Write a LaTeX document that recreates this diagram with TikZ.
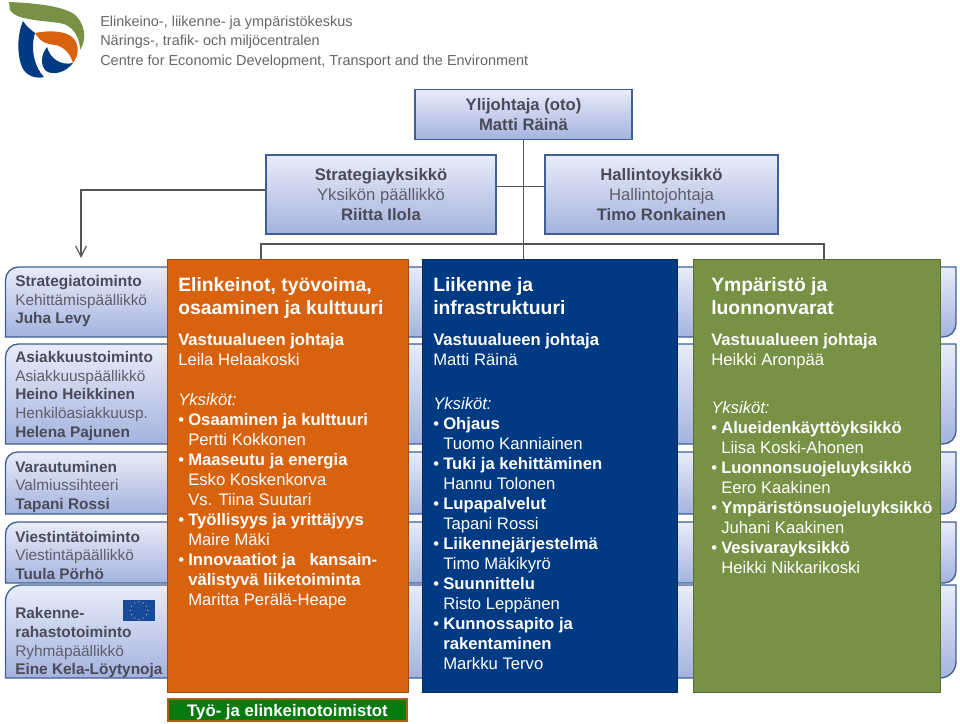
\documentclass[tikz,border=0pt]{standalone}
\usepackage{fontspec}
\setmainfont{Liberation Sans}
\usetikzlibrary{arrows.meta,positioning,calc,fit}
\definecolor{inktext}{HTML}{4A4A58}
\definecolor{softtext}{HTML}{5E5E68}
\definecolor{logotext}{HTML}{666666}
\definecolor{edgeblue}{HTML}{3F5F95}
\definecolor{shadetop}{HTML}{E9ECF9}
\definecolor{shadebot}{HTML}{A3B3DE}
\definecolor{linegray}{HTML}{555555}
\definecolor{elyorange}{HTML}{D9620F}
\definecolor{elyblue}{HTML}{003A82}
\definecolor{elygreen}{HTML}{779145}
\definecolor{tegreen}{HTML}{087A10}
\definecolor{tebrown}{HTML}{A8621C}
\definecolor{flagblue}{HTML}{174A9B}
\definecolor{flagstar}{HTML}{D8D060}
\tikzset{
  unitbox/.style={draw=edgeblue,line width=1pt,top color=shadetop,bottom color=shadebot,align=center,
    text=softtext,inner sep=0pt,font=\fontsize{12.5}{15}\selectfont},
  bandbox/.style={draw=edgeblue,line width=1pt,top color=shadetop,bottom color=shadebot},
  bandtext/.style={anchor=north west,align=left,inner sep=0pt,text=softtext,font=\fontsize{11.55}{13.9}\selectfont},
  panelbox/.style={draw=#1!75!black,line width=.6pt,fill=#1,inner sep=0pt},
  paneltitle/.style={anchor=north west,align=left,inner sep=0pt,text=white,font=\fontsize{14.5}{17.2}\selectfont\bfseries},
  paneltext/.style={anchor=north west,align=left,inner sep=0pt,text=white,font=\fontsize{12.5}{15}\selectfont},
  logoline/.style={anchor=west,inner sep=0pt,text=logotext,font=\fontsize{10.85}{13}\selectfont},
  linkline/.style={draw=linegray,line width=.9pt}
}
\newcommand{\hd}[1]{\textbf{\textcolor{inktext}{#1}}}
\newcommand{\bul}[1]{\makebox[7.5pt][l]{•}\textbf{#1}}
\newcommand{\nam}[1]{\hspace*{7.5pt}#1}
\begin{document}
\begin{tikzpicture}[x=0.75pt,y=-0.75pt]
\useasboundingbox (0,0) rectangle (960,724);
% logo
\fill[elygreen] (9,2) .. controls (30,3) and (60,5) .. (74,14) .. controls (84,22) and (88,38) .. (80,50)
  .. controls (80,40) and (75,28) .. (64,24) .. controls (45,20) and (16,21) .. (10,10) -- cycle;
\fill[elyblue] (23,21) .. controls (17,35) and (17,55) .. (22,67) .. controls (26,76) and (36,79) .. (44,77)
  .. controls (35,68) and (30,50) .. (35,33) .. controls (31,30) and (26,26) .. (23,21) -- cycle;
\fill[elyblue] (47,47) .. controls (41,55) and (40,65) .. (46,71) .. controls (54,76) and (66,72) .. (73,63)
  .. controls (60,66) and (50,58) .. (47,47) -- cycle;
\fill[elyorange] (35,33) .. controls (50,30) and (65,31) .. (72,37) .. controls (80,44) and (79,55) .. (73,63)
  .. controls (70,52) and (62,46) .. (55,45) .. controls (48,44) and (42,44) .. (35,33) -- cycle;
\node[logoline] (logoa) at (100,23) {Elinkeino-, liikenne- ja ympäristökeskus};
\node[logoline] (logob) at (100,42) {Närings-, trafik- och miljöcentralen};
\node[logoline] (logoc) at (100,62) {Centre for Economic Development, Transport and the Environment};
% draw the bands behind the panels
\foreach \ya/\yb/\rr in {267/337/13,344/444/13,452/514/12,522/583/12,585/678/16}
  \draw[bandbox] (5.5,\yb) -- (5.5,{\ya+\rr}) .. controls (5.5,{\ya+.45*\rr}) and ({5.5+.45*\rr},\ya) .. ({5.5+\rr},\ya) -- (956,\ya)
    -- (956,{\yb-\rr}) .. controls (956,{\yb-.45*\rr}) and ({956-.45*\rr},\yb) .. ({956-\rr},\yb) -- cycle;
% draw upper boxes
\node[unitbox,minimum width=162.75pt,minimum height=37.5pt] (ylij) at (523.5,114.5)
  {\hd{Ylijohtaja (oto)}\\\hd{Matti Räinä}};
\node[unitbox,minimum width=172.5pt,minimum height=59.25pt] (strat) at (381,194.5)
  {\hd{Strategiayksikkö}\\Yksikön päällikkö\\\hd{Riitta Ilola}};
\node[unitbox,minimum width=174.75pt,minimum height=59.25pt] (hall) at (661.5,194.5)
  {\hd{Hallintoyksikkö}\\Hallintojohtaja\\\hd{Timo Ronkainen}};
% draw panels
\node[panelbox=elyorange,minimum width=180.75pt,minimum height=324.75pt] (orange) at (287.5,475.5) {};
\node[panelbox=elyblue,minimum width=191.25pt,minimum height=324.75pt] (blue) at (549.5,475.5) {};
\node[panelbox=elygreen,minimum width=185.25pt,minimum height=324.75pt] (green) at (816.5,475.5) {};
\node[draw=tebrown,line width=1.5pt,fill=tegreen,inner sep=0pt,minimum width=179.5pt,minimum height=17pt,
  font=\fontsize{12.55}{15}\selectfont\bfseries,text=white] (toimistot) at (287.5,710) {\raisebox{-4.5pt}[0pt][0pt]{Työ- ja elinkeinotoimistot}};
% connectors
\coordinate (strattip) at (81,258);
\coordinate (busa) at (523.5,186.5);
\coordinate (busb) at (523.5,244);
\draw[linkline] (ylij.south) -- (ylij.south |- blue.north);
\draw[linkline] (busa -| strat.east) -- (busa -| hall.west);
\draw[linkline,-{Straight Barb[length=8pt,width=8pt]}] (strat.west |- 0,190) -- (strattip |- 0,190) -- (strattip);
\draw[linkline] (261,259) -- (261,244) -- (824,244) -- (824,259);
% left band texts
\node[bandtext] (rowa) at (15,275.5) {\hd{Strategiatoiminto}\\Kehittämispäällikkö\\\hd{Juha Levy}};
\node[bandtext] (rowb) at (15,351.5) {\hd{Asiakkuustoiminto}\\Asiakkuuspäällikkö\\\hd{Heino Heikkinen}\\Henkilöasiakkuusp.\\\hd{Helena Pajunen}};
\node[bandtext] (rowc) at (15,461) {\hd{Varautuminen}\\Valmiussihteeri\\\hd{Tapani Rossi}};
\node[bandtext] (rowd) at (15,531) {\hd{Viestintätoiminto}\\Viestintäpäällikkö\\\hd{Tuula Pörhö}};
\node[bandtext] (rowe) at (15,607.5) {\hd{Rakenne-}\\\hd{rahastotoiminto}\\Ryhmäpäällikkö\\\hd{Eine Kela-Löytynoja}};
% flag
\node[fill=flagblue,inner sep=0pt,minimum width=24.5pt,minimum height=15.75pt] (flag) at (139,610.5) {};
\foreach \a in {0,30,...,330}
  \fill[flagstar] ($(flag.center)+(\a:6.5pt)$) circle (.45pt);
% orange panel texts
\node[paneltitle] (ortitle) at (178,277.5) {Elinkeinot, työvoima,\\osaaminen ja kulttuuri};
\node[paneltext] (orhead) at (178,333.5) {\textbf{Vastuualueen johtaja}\\Leila Helaakoski};
\node[paneltext] (orlist) at (178,393.5) {\textit{Yksiköt:}\\\bul{Osaaminen ja kulttuuri}\\\nam{Pertti Kokkonen}\\\bul{Maaseutu ja energia}\\\nam{Esko Koskenkorva}\\\nam{Vs. Tiina Suutari}\\\bul{Työllisyys ja yrittäjyys}\\\nam{Maire Mäki}\\\bul{Innovaatiot ja \ \ kansain-}\\\nam{\textbf{välistyvä liiketoiminta}}\\\nam{Maritta Perälä-Heape}};
% blue panel texts
\node[paneltitle] (bltitle) at (433,277.5) {Liikenne ja\\infrastruktuuri};
\node[paneltext] (blhead) at (433,333.5) {\textbf{Vastuualueen johtaja}\\Matti Räinä};
\node[paneltext] (bllist) at (433,397.5) {\textit{Yksiköt:}\\\bul{Ohjaus}\\\nam{Tuomo Kanniainen}\\\bul{Tuki ja kehittäminen}\\\nam{Hannu Tolonen}\\\bul{Lupapalvelut}\\\nam{Tapani Rossi}\\\bul{Liikennejärjestelmä}\\\nam{Timo Mäkikyrö}\\\bul{Suunnittelu}\\\nam{Risto Leppänen}\\\bul{Kunnossapito ja}\\\nam{\textbf{rakentaminen}}\\\nam{Markku Tervo}};
% green panel texts
\node[paneltitle] (grtitle) at (711,277.5) {Ympäristö ja\\luonnonvarat};
\node[paneltext] (grhead) at (711,333.5) {\textbf{Vastuualueen johtaja}\\Heikki Aronpää};
\node[paneltext] (grlist) at (711,401.5) {\textit{Yksiköt:}\\\bul{Alueidenkäyttöyksikkö}\\\nam{Liisa Koski-Ahonen}\\\bul{Luonnonsuojeluyksikkö}\\\nam{Eero Kaakinen}\\\bul{Ympäristönsuojeluyksikkö}\\\nam{Juhani Kaakinen}\\\bul{Vesivarayksikkö}\\\nam{Heikki Nikkarikoski}};
\end{tikzpicture}
\end{document}
